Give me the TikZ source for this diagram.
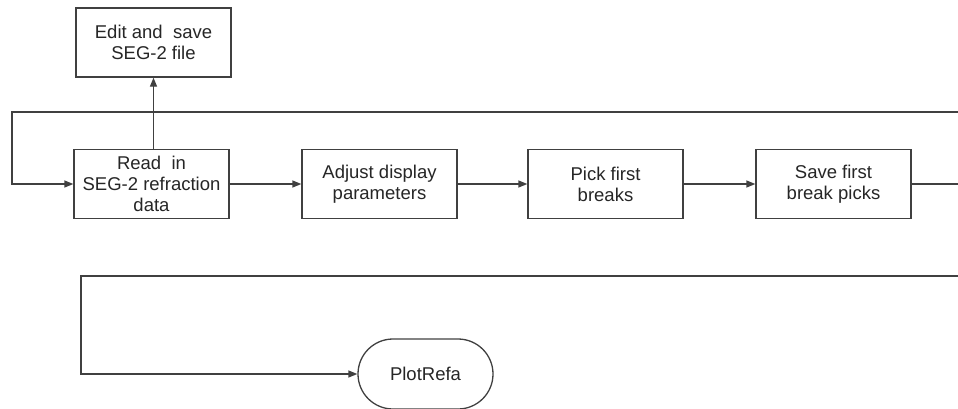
\documentclass[tikz,border=0pt]{standalone}
\usepackage{fontspec}
\setmainfont{Liberation Sans}
\usetikzlibrary{arrows.meta}
\begin{document}
\begin{tikzpicture}[x=1pt,y=-1pt,
  line/.style={draw=black!75,line width=1.3pt},
  arr/.style={line,-{Triangle[length=9pt,width=7pt]}},
  stepbox/.style={line,fill=white,rectangle,minimum width=155pt,minimum height=69pt,inner sep=0pt,
    align=center,font=\fontsize{18.5pt}{21pt}\selectfont,text=black!85},
  term/.style={line,rectangle,rounded corners=35pt,minimum width=135pt,minimum height=70pt,inner sep=0pt,
    font=\fontsize{18.5pt}{21pt}\selectfont,text=black!85}]
\useasboundingbox (0,0) rectangle (958,408);
\node[stepbox] (edit) at (153.5,42.5) {Edit and~ save\\SEG-2 file};
\node[stepbox] (read) at (151.5,184) {Read~ in\\SEG-2 refraction\\data};
\node[stepbox] (adj) at (379.5,184) {Adjust display\\parameters};
\node[stepbox] (pick) at (605.5,184) {Pick first\\breaks};
\node[stepbox] (save) at (833.5,184) {Save first\\break picks};
\node[term] (plot) at (425.5,374) {PlotRefa};
\coordinate (tr) at (960,112);
\coordinate (tl) at (12,112);
\coordinate (sr) at (960,184);
\coordinate (br) at (960,276);
\coordinate (bl) at (81,276);
\draw[arr] (read.north -| edit.south) -- (edit.south);
\draw[arr] (tr) -- (tl) |- (read.west);
\draw[arr] (read) -- (adj);
\draw[arr] (adj) -- (pick);
\draw[arr] (pick) -- (save);
\draw[line] (save) -- (sr);
\draw[arr] (br) -- (bl) |- (plot.west);
\end{tikzpicture}
\end{document}
